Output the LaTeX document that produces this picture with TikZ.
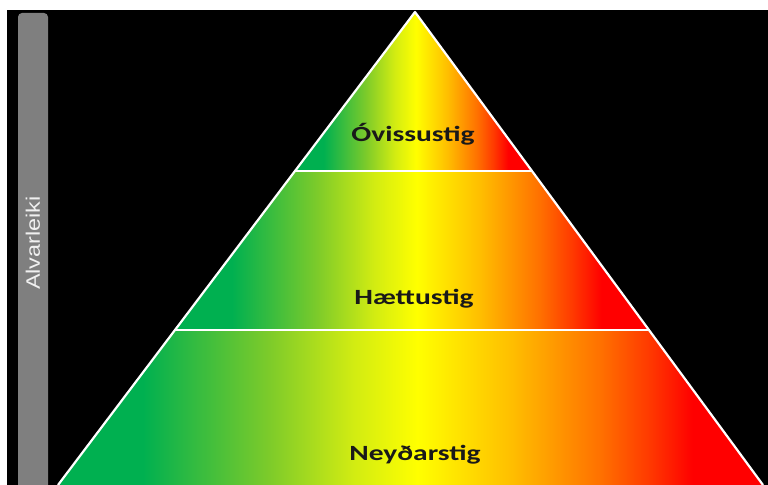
\documentclass[tikz,border=0pt]{standalone}
\usepackage{fontspec}
\usetikzlibrary{calc}
\newfontfamily\lvlfont[FakeStretch=1.36]{Carlito}
\newfontfamily\scalefont[FakeStretch=1.2]{Liberation Sans}
\definecolor{pgreen}{HTML}{00B050}
\definecolor{lgreen}{HTML}{7DCB2A}
\definecolor{ygreen}{HTML}{D2EC12}
\definecolor{pyellow}{HTML}{FFFF00}
\definecolor{porange}{HTML}{FFC000}
\definecolor{dorange}{HTML}{FF7000}
\definecolor{rorange}{HTML}{FF3800}
\definecolor{pred}{HTML}{FF0000}
\definecolor{bargray}{HTML}{7F7F7F}
\pgfdeclarehorizontalshading{alert}{100bp}{color(0bp)=(pgreen); color(31bp)=(pgreen);
  color(40bp)=(lgreen); color(46bp)=(ygreen); color(50.5bp)=(pyellow);
  color(57bp)=(porange); color(63.5bp)=(dorange); color(67bp)=(rorange);
  color(70bp)=(pred); color(100bp)=(pred)}
\tikzset{
    band/.style={
        shading=alert
    },
    rim/.style={
        draw=white,
        line width=2.2bp,
        line join=round
    },
    lvl/.style={
        anchor=base,
        inner sep=0pt,
        text=black!90,
        font=\fontsize{21.7bp}{26bp}\lvlfont\bfseries
    },
    scalelbl/.style={
        rotate=90,
        inner sep=0pt,
        text=white!94!black,
        font=\fontsize{19.5bp}{23bp}\scalefont
    }
}
\begin{document}
\begin{tikzpicture}[x=1bp,y=1bp]
\useasboundingbox (0,0) rectangle (768,485);
\fill[white] (0,0) rectangle (768,485);
\fill[black] (7,0) rectangle (768,475);

% severity bar
\fill[bargray] (18,0) -- (18,468) arc[start angle=180,end angle=90,radius=4]
    -- (44,472) arc[start angle=90,end angle=0,radius=4] -- (48,0) -- cycle;
\node[scalelbl] (sev) at (33,242) {Alvarleiki};

% pyramid
\coordinate (apex) at (415,473);
\coordinate (bl) at (58,0);
\coordinate (br) at (763,0);
\coordinate (l1) at ($(apex)!0.336!(bl)$);
\coordinate (r1) at ($(apex)!0.336!(br)$);
\coordinate (l2) at ($(apex)!0.672!(bl)$);
\coordinate (r2) at ($(apex)!0.672!(br)$);

\shade[band] (apex) -- (r1) -- (l1) -- cycle;
\shade[band] (l1) -- (r1) -- (r2) -- (l2) -- cycle;
\shade[band] (l2) -- (r2) -- (br) -- (bl) -- cycle;

\draw[rim] (bl) -- (apex) -- (br);
\draw[rim] (l1) -- (r1);
\draw[rim] (l2) -- (r2);

\node[lvl] (ovissa) at (413,343) {Óvissustig};
\node[lvl] (haetta) at (414,180) {Hættustig};
\node[lvl] (neyd) at (415,24) {Neyðarstig};

\end{tikzpicture}
\end{document}
